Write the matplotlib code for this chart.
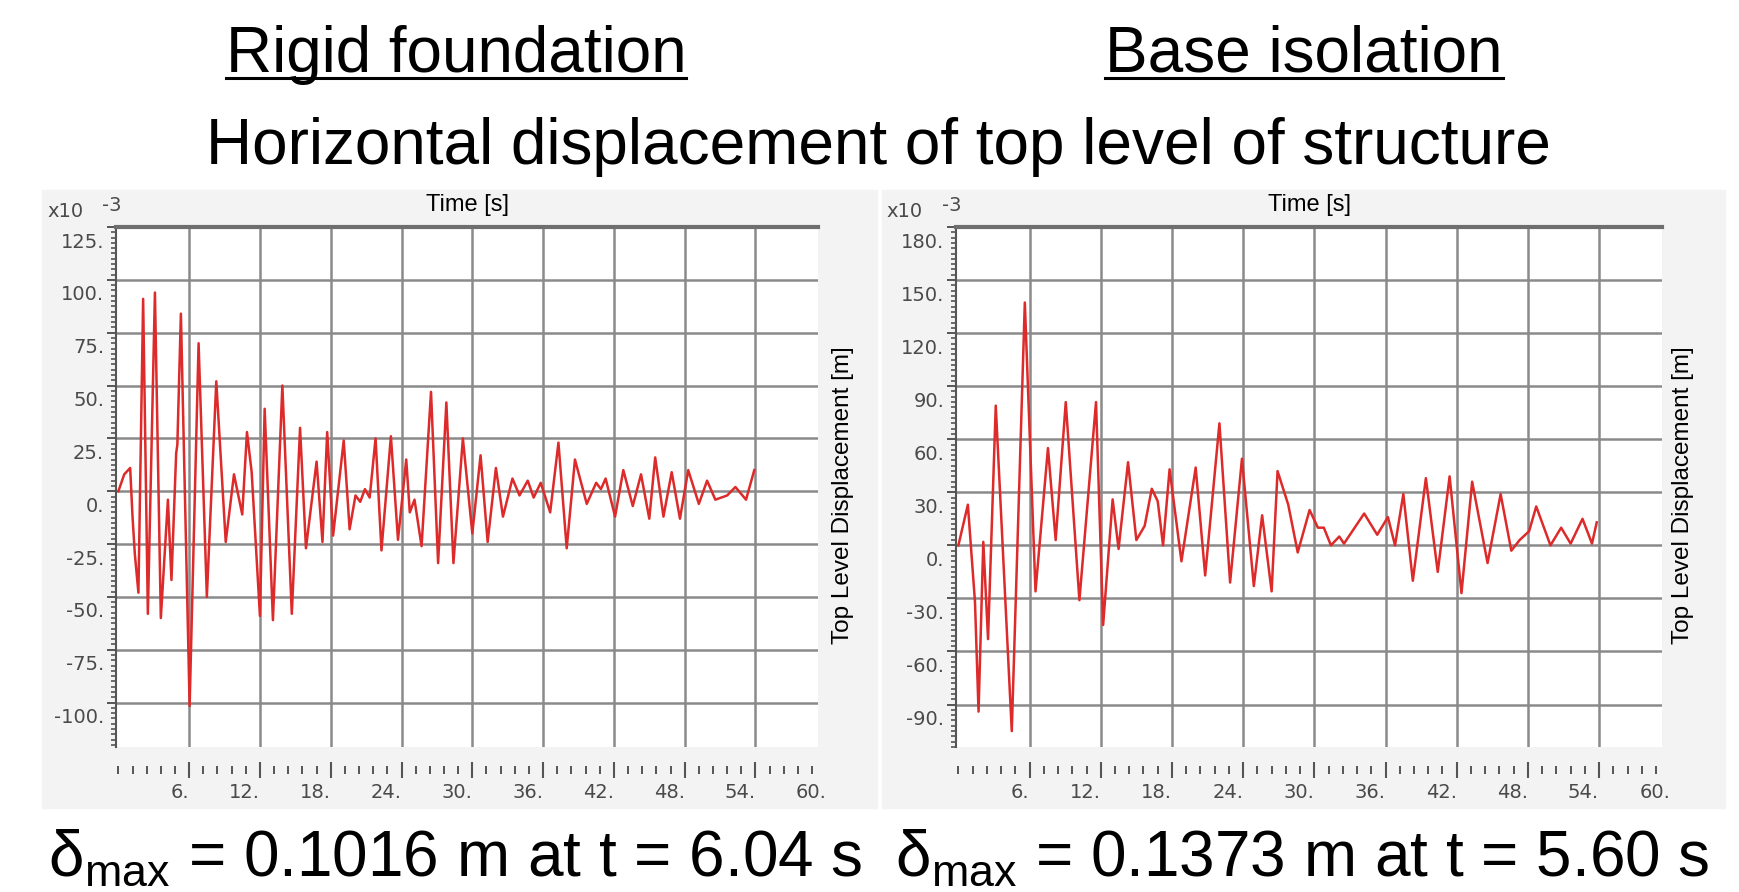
import matplotlib.pyplot as plt
from matplotlib.ticker import MultipleLocator
from matplotlib.patches import Rectangle
from matplotlib.lines import Line2D
from matplotlib.transforms import IdentityTransform, ScaledTranslation

plt.rcParams['font.family'] = ['Liberation Sans', 'DejaVu Sans']
plt.rcParams['mathtext.fontset'] = 'custom'
plt.rcParams['mathtext.rm'] = 'Liberation Sans'
plt.rcParams['mathtext.it'] = 'Liberation Sans:italic'

# Rigid foundation: time [s] vs top level displacement [x10^-3 m] (peaks / troughs)
rigid_t = [0.0, 0.5, 1.0, 1.2, 1.4, 1.7, 2.1, 2.5, 3.1, 3.6, 4.2, 4.5, 4.9, 5.0, 5.3,
           6.04, 6.8, 7.5, 8.3, 9.1, 9.8, 10.5, 10.9, 11.3, 12.0, 12.4, 13.1, 13.9,
           14.7, 15.4, 15.9, 16.8, 17.3, 17.7, 18.2, 19.1, 19.6, 20.1, 20.5, 20.9,
           21.3, 21.8, 22.3, 23.1, 23.7, 24.4, 24.7, 25.1, 25.7, 26.5, 27.1, 27.8,
           28.4, 29.2, 30.0, 30.7, 31.3, 32.0, 32.6, 33.4, 34.0, 34.7, 35.2, 35.8,
           36.6, 37.3, 38.0, 38.7, 39.7, 40.5, 40.9, 41.3, 42.1, 42.8, 43.6, 44.3,
           45.0, 45.5, 46.2, 46.9, 47.6, 48.3, 49.2, 49.9, 50.6, 51.6, 52.3, 53.2, 53.9]
rigid_d = [0, 8, 11, -12, -30, -48, 91, -58, 94, -60, -4, -42, 18, 22, 84,
           -101.6, 70, -50, 52, -24, 8, -11, 28, 9, -59, 39, -61, 50,
           -58, 30, -27, 14, -24, 28, -21, 24, -18, -2, -5, 1,
           -3, 25, -28, 26, -23, 15, -10, -4, -26, 47, -34, 42,
           -34, 25, -20, 17, -24, 11, -12, 6, -2, 5, -3, 4,
           -10, 23, -27, 15, -6, 4, 1, 6, -12, 10, -7, 8,
           -13, 16, -12, 9, -13, 10, -6, 5, -4, -2, 2, -4, 10]

# Base isolation
iso_t = [0.0, 0.8, 1.4, 1.7, 2.1, 2.5, 3.15, 4.5, 5.6, 6.5, 7.55, 8.2, 9.05, 10.2,
         11.6, 12.2, 13.0, 13.5, 14.3, 15.0, 15.7, 16.3, 16.8, 17.25, 17.8, 18.8,
         20.0, 20.8, 22.0, 22.9, 23.9, 24.9, 25.6, 26.4, 26.9, 27.8, 28.6, 29.6,
         30.3, 30.8, 31.4, 32.1, 32.5, 34.2, 35.3, 36.2, 36.8, 37.5, 38.3, 39.4,
         40.4, 41.4, 42.4, 43.3, 44.6, 45.7, 46.6, 47.3, 48.1, 48.7, 49.9, 50.8,
         51.6, 52.6, 53.4, 53.8]
iso_d = [0, 23, -32, -94, 2, -53, 79, -105, 137.3, -26, 55, 3, 81, -31,
         81, -45, 26, -2, 47, 3, 11, 32, 25, 0, 43, -9,
         44, -17, 69, -21, 49, -23, 17, -26, 42, 23, -4, 20,
         10, 10, 0, 5, 1, 18, 6, 16, 0, 29, -20, 38,
         -15, 39, -27, 36, -10, 29, -3, 3, 8, 22, 0, 10,
         1, 15, 1, 13]

xticks = [6, 12, 18, 24, 30, 36, 42, 48, 54]
rigid_yticks = [-100, -75, -50, -25, 0, 25, 50, 75, 100, 125]
iso_yticks = [-90, -60, -30, 0, 30, 60, 90, 120, 150, 180]

W, H = 1739, 892
fig = plt.figure(figsize=(W / 100, H / 100), dpi=100)
fig.patch.set_facecolor('white')

# grey panels behind the two plots
for x0, x1 in [(42, 877), (882, 1725)]:
    fig.add_artist(Rectangle((x0 / W, 1 - 808 / H), (x1 - x0) / W, (808 - 190) / H,
                             transform=fig.transFigure, color='#f3f3f3', zorder=-1))

tick_font = 'DejaVu Sans'
tick_col = '#4a4a4a'


def style(ax, t, d, ylim, yticks, yminor, ylab_x):
    ax.plot(t, d, color='#dd2a2a', linewidth=1.8, zorder=3)
    ax.set_xlim(-0.2, 59.3)
    ax.set_ylim(*ylim)
    ax.set_xticks(xticks, labels=[f'{v}.' for v in xticks])
    ax.set_yticks(yticks, labels=[f'{v}.' for v in yticks])
    ax.xaxis.set_minor_locator(MultipleLocator(1.2))
    ax.yaxis.set_minor_locator(MultipleLocator(yminor))
    ax.set_axisbelow(True)
    ax.grid(True, which='major', color='#8a8a8a', linewidth=1.8)

    ax.spines['right'].set_visible(False)
    ax.spines['top'].set_linewidth(3)
    ax.spines['top'].set_color('#6e6e6e')
    ax.spines['left'].set_linewidth(1.5)
    ax.spines['left'].set_color('#555555')
    ax.spines['bottom'].set_position(('outward', 16.5))
    ax.spines['bottom'].set_color('none')

    ax.tick_params(axis='x', which='major', direction='inout', length=11.5, width=1.5,
                   color='#555555', pad=3.5, labelsize=14, labelcolor=tick_col,
                   labelfontfamily=tick_font)
    ax.tick_params(axis='x', which='minor', direction='inout', length=5.8, width=1.4,
                   color='#555555')
    ax.tick_params(axis='y', which='major', direction='out', length=6.5, width=1.4,
                   color='#555555', pad=2, labelsize=14, labelcolor=tick_col,
                   labelfontfamily=tick_font)
    ax.tick_params(axis='y', which='minor', direction='out', length=3.5, width=1.2,
                   color='#555555')
    for lab in ax.get_xticklabels():
        lab.set_ha('right')
    shift = ScaledTranslation(0, -4 / 72, fig.dpi_scale_trans)
    for lab in ax.get_yticklabels():
        lab.set_va('top')
        lab.set_transform(lab.get_transform() + shift)

    ax.text(60, -0.069, '60.', transform=ax.get_xaxis_transform(), ha='right', va='top',
            fontsize=14, color=tick_col, family=tick_font)
    ax.text(0.5, 1.042, 'Time [s]', transform=ax.transAxes, ha='center', va='center',
            fontsize=17)
    ax.text(-0.0726, 1.029, 'x10', transform=ax.transAxes, ha='center', va='center',
            fontsize=14, color=tick_col, family=tick_font)
    ax.text(-0.006, 1.042, '-3', transform=ax.transAxes, ha='center', va='center',
            fontsize=14, color=tick_col, family=tick_font)
    ax.text(ylab_x, 0.484, 'Top Level Displacement [m]', transform=ax.transAxes,
            rotation=90, ha='center', va='center', fontsize=17.5)


ax1 = fig.add_axes([116 / W, 1 - 747 / H, 702 / W, 520 / H])
style(ax1, rigid_t, rigid_d, (-121, 125), rigid_yticks, 2.5, 1.0356)

ax2 = fig.add_axes([956 / W, 1 - 747 / H, 706 / W, 520 / H])
style(ax2, iso_t, iso_d, (-114, 180), iso_yticks, 3, 1.0297)

# headings
t1 = fig.text(456 / W, 1 - 72 / H, 'Rigid foundation', ha='center', va='baseline', fontsize=46)
t2 = fig.text(1304 / W, 1 - 72 / H, 'Base isolation', ha='center', va='baseline', fontsize=46)
fig.text(878 / W, 1 - 164 / H, 'Horizontal displacement of top level of structure',
         ha='center', va='baseline', fontsize=46)

fig.text(455 / W, 1 - 876 / H, r'δ$_{\mathrm{max}}$ = 0.1016 m at t = 6.04 s',
         ha='center', va='baseline', fontsize=46)
fig.text(1302 / W, 1 - 876 / H, r'δ$_{\mathrm{max}}$ = 0.1373 m at t = 5.60 s',
         ha='center', va='baseline', fontsize=46)

# underline the two headings
fig.canvas.draw()
renderer = fig.canvas.get_renderer()
for t in (t1, t2):
    bb = t.get_window_extent(renderer)
    fig.add_artist(Line2D([bb.x0, bb.x1], [H - 78, H - 78], transform=IdentityTransform(),
                          color='black', linewidth=2.2))

fig.savefig('out.png', dpi=100)
